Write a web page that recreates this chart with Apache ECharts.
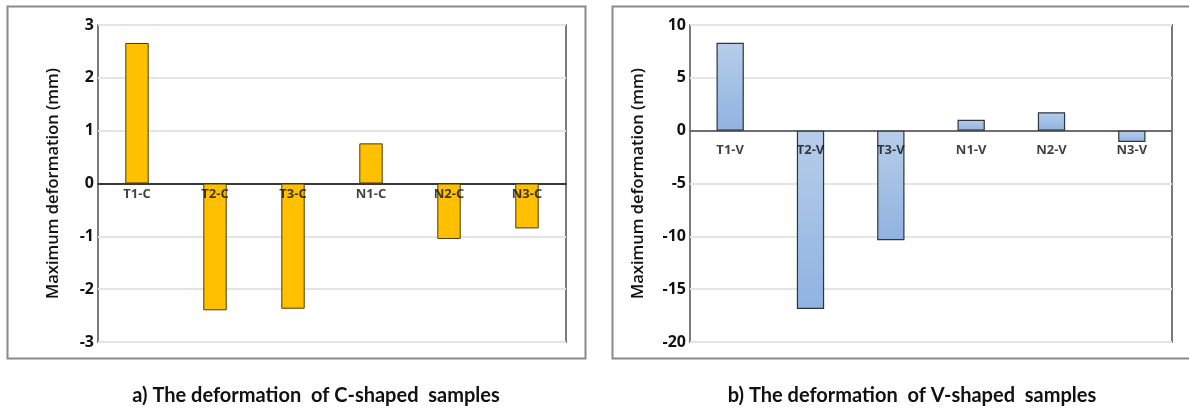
<!DOCTYPE html>
<html>
<head>
<meta charset="utf-8">
<script src="https://cdn.jsdelivr.net/npm/echarts@6/dist/echarts.min.js"></script>
<style>
html,body{margin:0;padding:0;background:#fff;}
#chart{width:1189px;height:410px;}
</style>
</head>
<body>
<div id="chart"></div>
<script>
var catsC = ['T1-C','T2-C','T3-C','N1-C','N2-C','N3-C'];
var valsC = [2.66, -2.40, -2.37, 0.76, -1.05, -0.85];
var catsV = ['T1-V','T2-V','T3-V','N1-V','N2-V','N3-V'];
var valsV = [8.32, -16.87, -10.36, 1.04, 1.74, -1.07];
var yNameC = 'Maximum deformation (mm)';
var yNameV = 'Maximum deformation (mm)';
var captionC = 'a) The deformation  of C-shaped  samples';
var captionV = 'b) The deformation  of V-shaped  samples';

var FONT = 'Lato';
var BFONT = '"Open Sans"';
var chart = echarts.init(document.getElementById('chart'), null, {renderer:'canvas'});

function yAxisCfg(gi, min, max, interval, name, gap){
  return {
    type:'value', gridIndex:gi, min:min, max:max, interval:interval,
    name:name, nameLocation:'middle', nameGap:gap, nameRotate:90,
    nameTextStyle:{fontFamily:BFONT, fontSize:16.5, color:'#111', fontWeight:600},
    axisLine:{show:false}, axisTick:{show:false},
    axisLabel:{margin:4, fontFamily:BFONT, fontSize:16, fontWeight:'bold', color:'#111'},
    splitLine:{show:true, lineStyle:{color:'#e4e4e4', width:2}}
  };
}
function xAxisCfg(gi, cats, lineColor, lineWidth){
  return {
    type:'category', gridIndex:gi, data:cats,
    axisLine:{show:true, onZero:true, lineStyle:{color:lineColor, width:lineWidth}},
    axisTick:{show:false},
    axisLabel:{show:false}
  };
}
// category labels placed at value 0 through the axes
function labelSeries(xi, cats, dist){
  return {
    type:'scatter', xAxisIndex:xi, yAxisIndex:xi, symbolSize:0, silent:true, z:5,
    data:cats.map(function(c){ return [c, 0]; }),
    label:{show:true, position:'bottom', distance:dist,
      formatter:function(p){ return p.value[0]; },
      fontFamily:BFONT, fontSize:13, fontWeight:'bold', color:'#111'}
  };
}

var option = {
  animation:false,
  backgroundColor:'#fff',
  title:[
    {text:captionC, left:311, top:381, textAlign:'center',
     textStyle:{fontFamily:FONT, fontSize:20, fontWeight:'bold', color:'#111'}},
    {text:captionV, left:907, top:381, textAlign:'center',
     textStyle:{fontFamily:FONT, fontSize:20, fontWeight:'bold', color:'#111'}}
  ],
  graphic:[
    {type:'rect', shape:{x:7.5, y:6.5, width:578, height:352},
     style:{fill:'none', stroke:'#8a8a8a', lineWidth:2}, z:-1},
    {type:'rect', shape:{x:612.5, y:6.5, width:600, height:352},
     style:{fill:'none', stroke:'#8a8a8a', lineWidth:2}, z:-1}
  ],
  grid:[
    {left:98, top:25, width:468, height:317, show:true, borderColor:'#7a7a7a', borderWidth:2, backgroundColor:'#fff'},
    {left:690, top:25, width:482, height:317, show:true, borderColor:'#7a7a7a', borderWidth:2, backgroundColor:'#fff'}
  ],
  xAxis:[
    xAxisCfg(0, catsC, '#000', 1.5),
    xAxisCfg(1, catsV, '#6e6e6e', 2)
  ],
  yAxis:[
    yAxisCfg(0, -3, 3, 1, yNameC, 36),
    yAxisCfg(1, -20, 10, 5, yNameV, 43)
  ],
  series:[
    {type:'bar', xAxisIndex:0, yAxisIndex:0, data:valsC, barWidth:'30%',
     itemStyle:{color:'#FFC000', borderColor:'#4d3b00', borderWidth:1}},
    {type:'bar', xAxisIndex:1, yAxisIndex:1, data:valsV, barWidth:'34%',
     itemStyle:{
       color:{type:'linear', x:0, y:0, x2:0, y2:1, colorStops:[
         {offset:0, color:'#b7cdea'}, {offset:1, color:'#8fb3e0'}]},
       borderColor:'#2e3440', borderWidth:1.2}},
    labelSeries(0, catsC, 4),
    labelSeries(1, catsV, 13)
  ]
};
chart.setOption(option);
</script>
</body>
</html>
